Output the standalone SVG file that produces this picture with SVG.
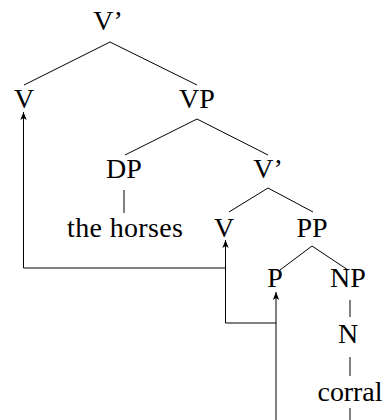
<svg xmlns="http://www.w3.org/2000/svg" width="386" height="420" viewBox="0 0 386 420">
  <style>
    .lbl { font-family: "Liberation Serif", "DejaVu Serif", serif; font-size: 28px; fill: #000; text-anchor: middle; }
    .edge { stroke: #000; stroke-width: 1; fill: none; }
    .move { stroke: #000; stroke-width: 1; fill: none; marker-end: url(#head); }
  </style>
  <defs>
    <marker id="head" viewBox="0 0 10 10" refX="10" refY="5" markerWidth="8" markerHeight="8" markerUnits="userSpaceOnUse" orient="auto">
      <path d="M0,1 L10,5 L0,9 L2.5,5 Z" fill="#000"/>
    </marker>
  </defs>
  <rect width="386" height="420" fill="#fff"/>

  <!-- tree branches -->
  <g id="branches">
    <path class="edge" d="M110,42 L24,85 M110,42 L197,85"/>
    <path class="edge" d="M197,119 L125,155 M197,119 L268,155"/>
    <path class="edge" d="M124,190 L124,213"/>
    <path class="edge" d="M268,188 L229,212 M268,188 L313,212"/>
    <path class="edge" d="M312,246 L280,270 M312,246 L348,270"/>
    <path class="edge" d="M350,300 L350,317"/>
    <path class="edge" d="M350,357 L350,376"/>
    <path class="edge" d="M350,408 L350,420"/>
  </g>

  <!-- movement arrows -->
  <g id="movement">
    <path class="move" d="M276,420 L276,292"/>
    <path class="move" d="M276,323 L225.5,323 L225.5,240"/>
    <path class="move" d="M225.5,268 L23.5,268 L23.5,112"/>
  </g>

  <g id="n-vbar-top"><text class="lbl" x="108" y="30">V’</text></g>
  <g id="n-v-top"><text class="lbl" x="24" y="108">V</text></g>
  <g id="n-vp"><text class="lbl" x="197" y="108">VP</text></g>
  <g id="n-dp"><text class="lbl" x="124" y="178">DP</text></g>
  <g id="n-vbar-mid"><text class="lbl" x="268" y="178">V’</text></g>
  <g id="n-horses"><text class="lbl" x="125" y="237" textLength="116" lengthAdjust="spacing">the horses</text></g>
  <g id="n-v-mid"><text class="lbl" x="224" y="237">V</text></g>
  <g id="n-pp"><text class="lbl" x="312" y="237">PP</text></g>
  <g id="n-p"><text class="lbl" x="275" y="287">P</text></g>
  <g id="n-np"><text class="lbl" x="348" y="287">NP</text></g>
  <g id="n-n"><text class="lbl" x="348" y="343">N</text></g>
  <g id="n-corral"><text class="lbl" x="350" y="401" textLength="65" lengthAdjust="spacing">corral</text></g>
</svg>
